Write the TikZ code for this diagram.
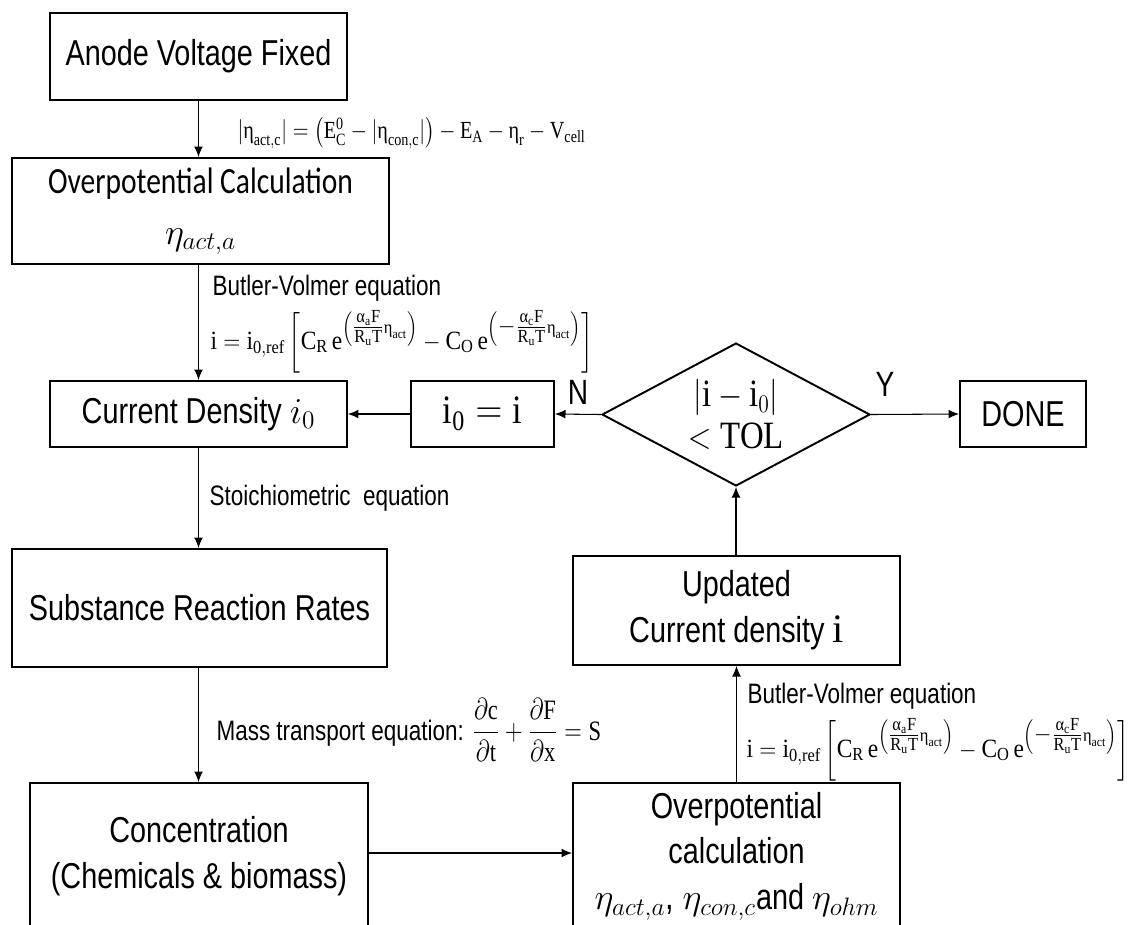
\documentclass[tikz,border=0pt]{standalone}
\usepackage{amsmath}
\usepackage{graphicx}
\usepackage{fontspec}
\setmainfont{Liberation Sans}[FakeStretch=0.8]
\setmathrm{Liberation Serif}
\newfontfamily\calib{Carlito}[FakeStretch=0.8]
\newfontfamily\grkup{Liberation Serif}
\usetikzlibrary{shapes.geometric,arrows.meta}

\newcommand{\ueta}{\text{\grkup η}}
\newcommand{\ualpha}{\text{\grkup α}}
\newcommand{\bveq}{\scalebox{0.89}[1]{$\mathrm{i} = \mathrm{i}_{\mathrm{0,ref}}\left[\mathrm{C_R}\,\mathrm{e}^{\left(\textstyle\frac{\ualpha_{\mathrm{a}}\mathrm{F}}{\mathrm{R_u T}}\scriptstyle\ueta_{\mathrm{act}}\right)} - \mathrm{C_O}\,\mathrm{e}^{\left(\textstyle-\frac{\ualpha_{\mathrm{c}}\mathrm{F}}{\mathrm{R_u T}}\scriptstyle\ueta_{\mathrm{act}}\right)}\right]$}}

\tikzset{
  stagebox/.style={draw,line width=1.1pt,align=center,font=\fontsize{20.5}{26}\selectfont},
  edgelabel/.style={anchor=west,inner sep=0pt,font=\fontsize{16}{19}\selectfont},
  eqlabel/.style={anchor=west,inner sep=0pt,font=\fontsize{14}{17}\selectfont}
}

\begin{document}
\begin{tikzpicture}[x=0.02cm,y=-0.02cm,>={Latex[length=6pt,width=5pt]},line width=0.6pt]
  \path[use as bounding box,clip] (0,0) rectangle (1138,924);

  \node (anode) [stagebox,minimum width=5.94cm,minimum height=1.74cm] at (198.5,56.5) {Anode Voltage Fixed};
  \node (overa) [stagebox,minimum width=7.54cm,minimum height=2.12cm,font=\calib\fontsize{21}{22}\selectfont] at (200.5,211) {Overpotential Calculation\\[7pt]{$\eta_{act,a}$}};
  \node (cd) [stagebox,minimum width=5.94cm,minimum height=1.32cm] at (198.5,414) {Current Density {\fontsize{22}{26}\selectfont$i_0$}};
  \node (set) [stagebox,minimum width=2.86cm,minimum height=1.32cm,font=\fontsize{23}{26}\selectfont] at (482.5,414) {\scalebox{0.85}[1]{$\mathrm{i_0 = i}$}};
  \node (check) [diamond,draw,line width=1.1pt,inner sep=0pt,aspect=1.87,minimum width=5.36cm,minimum height=2.86cm,align=center,font=\fontsize{22}{24}\selectfont] at (736,414.5) {\scalebox{0.85}[1]{$|\mathrm{i}-\mathrm{i}_0|$}\\\scalebox{0.85}[1]{$<\mathrm{TOL}$}};
  \node (done) [stagebox,minimum width=2.52cm,minimum height=1.32cm] at (1023,414) {DONE};
  \node (rates) [stagebox,minimum width=7.5cm,minimum height=2.36cm] at (199.5,608) {Substance Reaction Rates};
  \node (upd) [stagebox,minimum width=6.54cm,minimum height=2.18cm] at (736.5,610.5) {Updated\\Current density {\fontsize{23}{26}\selectfont$\mathrm{i}$}};
  \node (conc) [stagebox,minimum width=6.76cm,minimum height=2.92cm] at (199,856) {Concentration\\(Chemicals \& biomass)};
  \node (overb) [stagebox,minimum width=6.54cm,minimum height=2.92cm] at (736.5,856) {Overpotential\\calculation\\{\fontsize{22}{26}\selectfont$\eta_{act,a}$, $\eta_{con,c}$}and {\fontsize{22}{26}\selectfont$\eta_{ohm}$}};

  \node (eqact) [eqlabel] at (237,133) {\scalebox{0.82}[1]{$|\ueta_{\mathrm{act,c}}| = \left(\mathrm{E_C^0} - |\ueta_{\mathrm{con,c}}|\right) - \mathrm{E_A} - \ueta_{\mathrm{r}} - \mathrm{V_{cell}}$}};
  \node (bvtxta) [edgelabel] at (212,288) {Butler-Volmer equation};
  \node (bveqa) [eqlabel,font=\fontsize{15}{18}\selectfont] at (210,342) {\bveq};
  \node (stoich) [edgelabel] at (209,498) {Stoichiometric~ equation};
  \node (mass) [edgelabel] at (216,730) {Mass transport equation: \scalebox{0.8}[1]{$\dfrac{\partial \mathrm{c}}{\partial \mathrm{t}} + \dfrac{\partial \mathrm{F}}{\partial \mathrm{x}} = \mathrm{S}$}};
  \node (bvtxtb) [edgelabel] at (747,696) {Butler-Volmer equation};
  \node (bveqb) [eqlabel,font=\fontsize{15}{18}\selectfont] at (746,750) {\bveq};

  \draw[->] (anode.south) -- (anode.south |- overa.north);
  \draw[->] (overa.south -| anode.south) -- (cd.north);
  \draw[->] (cd.south) -- (cd.south |- rates.north);
  \draw[->] (rates.south -| cd.south) -- (cd.south |- conc.north);
  \draw[->] (conc.east |- 0,853) -- (overb.west |- 0,853);
  \draw[->] (overb.north) -- (upd.south);
  \draw[->] (upd.north -| check.south) -- (check.south);
  \draw[->] (check.west) -- node [above,inner sep=5pt,font=\fontsize{20}{24}\selectfont] {N} (set.east);
  \draw[->] (set.west) -- (cd.east);
  \draw[->] (check.east) -- node [above=8pt,inner sep=2pt,font=\fontsize{20}{24}\selectfont,pos=0.16] {Y} (done.west);
\end{tikzpicture}
\end{document}
